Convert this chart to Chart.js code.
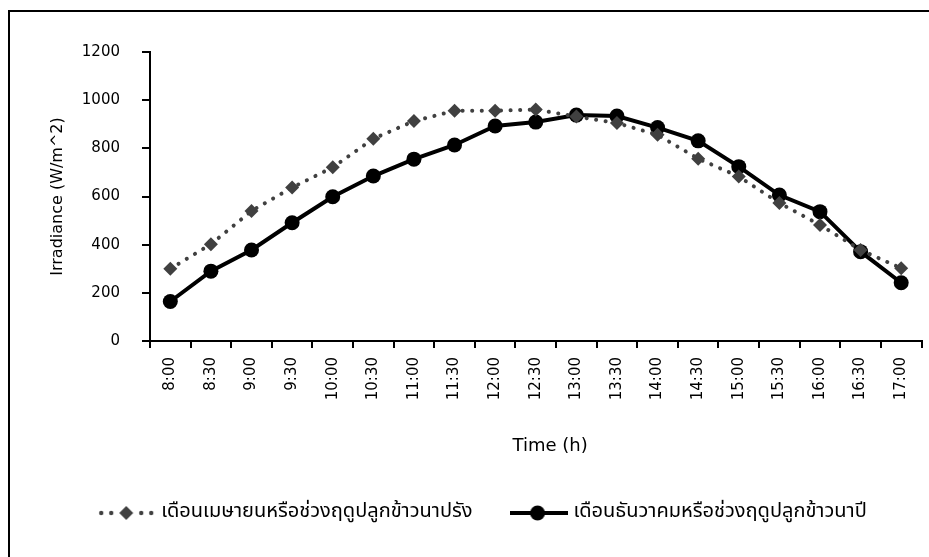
<!DOCTYPE html>
<html>
<head>
<meta charset="utf-8">
<script src="https://cdn.jsdelivr.net/npm/chart.js@4/dist/chart.umd.min.js"></script>
<style>
  html, body { margin: 0; padding: 0; background: #fff; }
  #wrap { width: 929px; height: 557px; }
</style>
</head>
<body>
<div id="wrap"><canvas id="chart" width="929" height="557"></canvas></div>
<script>
// 時刻ラベル
var timeLabels = ['8:00', '8:30', '9:00', '9:30', '10:00', '10:30', '11:00', '11:30', '12:00',
  '12:30', '13:00', '13:30', '14:00', '14:30', '15:00', '15:30', '16:00', '16:30', '17:00'];

// เดือนเมษายน (นาปรัง)
var aprilValues = [300, 402, 540, 637, 721, 840, 913, 956, 956, 961, 932, 905, 856, 757, 683, 573, 482, 378, 302];
// เดือนธันวาคม (นาปี)
var decemberValues = [164, 290, 378, 491, 599, 685, 755, 814, 893, 909, 938, 934, 886, 831, 724, 606, 537, 371, 242];

var aprilLabel = 'เดือนเมษายนหรือช่วงฤดูปลูกข้าวนาปรัง';
var decemberLabel = 'เดือนธันวาคมหรือช่วงฤดูปลูกข้าวนาปี';

var yTicks = [0, 200, 400, 600, 800, 1000, 1200];

var thaiFont = '"Noto Sans Thai", "Noto Sans", "DejaVu Sans", sans-serif';
var axisFont = '"DejaVu Sans", sans-serif';

// 凡例用マーカー画像
function makeDottedMarker() {
  var c = document.createElement('canvas');
  c.width = 58; c.height = 18;
  var g = c.getContext('2d');
  g.fillStyle = '#404040';
  [4, 14, 44, 54].forEach(function(x) {
    g.beginPath(); g.arc(x, 9, 2.2, 0, Math.PI * 2); g.fill();
  });
  g.beginPath();
  g.moveTo(29, 2); g.lineTo(36, 9); g.lineTo(29, 16); g.lineTo(22, 9); g.closePath();
  g.fill();
  return c;
}
function makeSolidMarker() {
  var c = document.createElement('canvas');
  c.width = 58; c.height = 18;
  var g = c.getContext('2d');
  g.fillStyle = '#000';
  g.fillRect(0, 7, 58, 4);
  g.beginPath(); g.arc(28, 9, 7.5, 0, Math.PI * 2); g.fill();
  return c;
}
var legendMarkers = [makeDottedMarker(), makeSolidMarker()];

// 枠線
var framePlugin = {
  id: 'frame',
  beforeDraw: function(chart) {
    var ctx = chart.ctx;
    ctx.save();
    ctx.fillStyle = '#fff';
    ctx.fillRect(0, 0, chart.width, chart.height);
    ctx.fillStyle = '#000';
    ctx.fillRect(8, 10, chart.width - 8, 2);
    ctx.fillRect(8, 10, 2, chart.height - 10);
    ctx.restore();
  }
};

// 凡例を少し右へ
var legendShiftPlugin = {
  id: 'legendShift',
  afterLayout: function(chart) {
    if (chart.legend) {
      chart.legend.left += 17;
      chart.legend.right += 17;
    }
  }
};

var chart = new Chart(document.getElementById('chart').getContext('2d'), {
  type: 'line',
  data: {
    labels: timeLabels,
    datasets: [
      {
        label: aprilLabel,
        data: aprilValues,
        borderColor: '#404040',
        borderWidth: 4,
        borderDash: [0.1, 9.5],
        borderCapStyle: 'round',
        pointStyle: 'rectRot',
        pointRadius: 7,
        pointBackgroundColor: '#404040',
        pointBorderColor: '#404040',
        pointBorderWidth: 0,
        tension: 0
      },
      {
        label: decemberLabel,
        data: decemberValues,
        borderColor: '#000',
        borderWidth: 4,
        pointStyle: 'circle',
        pointRadius: 7.5,
        pointBackgroundColor: '#000',
        pointBorderColor: '#000',
        pointBorderWidth: 0,
        tension: 0
      }
    ]
  },
  options: {
    responsive: false,
    animation: false,
    layout: { padding: { left: 12, right: 7, top: 52, bottom: 24 } },
    scales: {
      x: {
        offset: true,
        grid: { offset: true, drawOnChartArea: false, color: '#000', lineWidth: 2, tickLength: 7, tickWidth: 2 },
        border: { color: '#000', width: 2 },
        ticks: { color: '#000', font: { family: axisFont, size: 15 }, minRotation: 90, maxRotation: 90, padding: 9, autoSkip: false },
        // 先頭の空白で参照図と同じく少し右寄せ
        title: { display: true, text: '     Time (h)', color: '#000', font: { family: axisFont, size: 18 }, padding: { top: 0, bottom: 5 } },
        afterFit: function(scale) { scale.height = 121; }
      },
      y: {
        min: 0,
        max: 1200,
        afterBuildTicks: function(scale) { scale.ticks = yTicks.map(function(v) { return { value: v }; }); },
        grid: { drawOnChartArea: false, color: '#000', lineWidth: 2, tickLength: 8, tickWidth: 2 },
        border: { color: '#000', width: 2 },
        ticks: {
          color: '#000',
          font: { family: axisFont, size: 15 },
          padding: 22,
          callback: function(value) { return String(value); }
        },
        title: { display: true, text: 'Irradiance (W/m^2)', color: '#000', font: { family: axisFont, size: 16 }, padding: { top: 36, bottom: 0 } },
        afterFit: function(scale) { scale.width = 138; }
      }
    },
    plugins: {
      legend: {
        position: 'bottom',
        align: 'center',
        labels: {
          color: '#000',
          font: { family: thaiFont, size: 20 },
          usePointStyle: true,
          pointStyleWidth: 50,
          padding: 41,
          generateLabels: function(chart) {
            return chart.data.datasets.map(function(ds, i) {
              return {
                text: ds.label,
                fillStyle: ds.borderColor,
                strokeStyle: ds.borderColor,
                pointStyle: legendMarkers[i],
                lineWidth: 0,
                hidden: false,
                datasetIndex: i
              };
            });
          }
        }
      },
      tooltip: { enabled: false }
    }
  },
  plugins: [framePlugin, legendShiftPlugin]
});
</script>
</body>
</html>
